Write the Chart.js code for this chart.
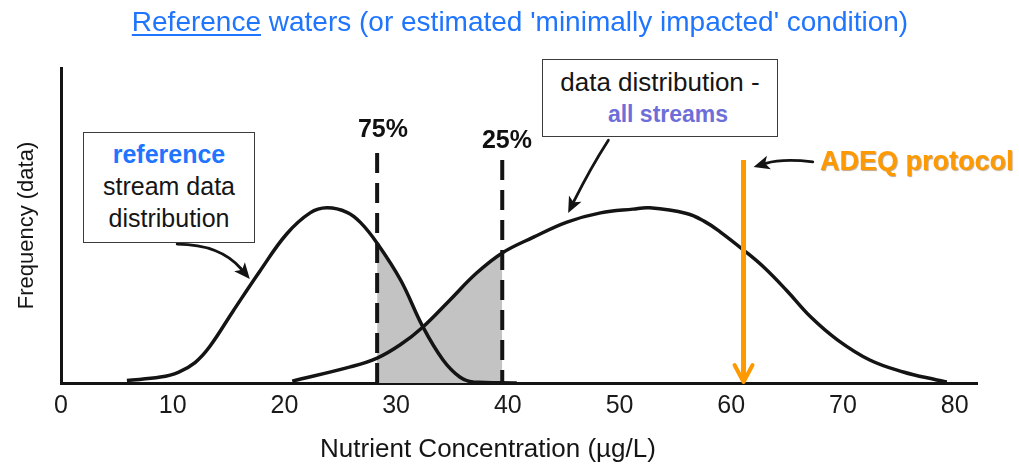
<!DOCTYPE html>
<html>
<head>
<meta charset="utf-8">
<script src="https://cdn.jsdelivr.net/npm/chart.js@4.4.1/dist/chart.umd.min.js"></script>
<style>
html,body{margin:0;padding:0;background:#fff;}
#wrap{position:relative;width:1019px;height:464px;overflow:hidden;font-family:"Liberation Sans",Arial,Helvetica,sans-serif;}
#c{position:absolute;left:0;top:0;}
.t{position:absolute;white-space:nowrap;}
#title{left:0;width:1040px;top:4px;text-align:center;font-size:28px;line-height:36px;color:#1f75fe;}
#title u{text-decoration-thickness:2px;text-underline-offset:3px;}
.box{position:absolute;background:#fff;border:1.5px solid #3c3c3c;text-align:center;color:#151515;box-sizing:border-box;white-space:nowrap;}
#box1{left:83px;top:132px;width:172px;height:111px;font-size:25px;line-height:32px;padding-top:5px;}
#box2{left:542px;top:59px;width:236px;height:78px;font-size:26px;line-height:31px;padding-top:7px;}
.blue{color:#1f75fe;font-weight:bold;}
.lav{color:#6e6ed8;font-weight:bold;font-size:23px;padding-left:16px;}
.pct{font-weight:bold;font-size:25px;line-height:30px;width:80px;text-align:center;color:#111;}
#p75{left:343px;top:113px;}
#p25{left:467px;top:124px;}
#adeq{left:820px;top:146px;font-weight:bold;font-size:27px;line-height:30px;color:#ff9900;text-shadow:1px 1px 1px rgba(110,60,0,0.45);}
#xtitle{left:288px;width:400px;top:433px;text-align:center;font-size:26px;line-height:30px;color:#151515;}
</style>
</head>
<body>
<div id="wrap">
<canvas id="c" width="1019" height="464"></canvas>
<div class="t" id="title"><u>Reference</u> waters (or estimated 'minimally impacted' condition)</div>
<div class="box" id="box1"><span class="blue">reference</span><br>stream data<br>distribution</div>
<div class="box" id="box2">data distribution -<br><span class="lav">all streams</span></div>
<div class="t pct" id="p75">75%</div>
<div class="t pct" id="p25">25%</div>
<div class="t" id="adeq">ADEQ protocol</div>
<div class="t" id="xtitle">Nutrient Concentration (µg/L)</div>
</div>
<script>
// ---- data ----
const TICKS = [0, 10, 20, 30, 40, 50, 60, 70, 80];

const REF_X = [5.9, 8.9, 10.5, 12.0, 13.3, 15.4, 17.8, 20.2, 22.3, 23.8, 25.6, 26.8, 28.3, 30.4, 32.4, 34.2, 35.7, 36.9, 40.8];
const REF_Y = [0.8, 1.9, 3.4, 6.5, 11.5, 22.8, 35.5, 47.3, 54.0, 55.6, 54.2, 51.0, 44.4, 32.7, 17.8, 7.3, 1.9, 0.3, 0];

const ALL_X = [20.7, 25.9, 28.3, 30.4, 32.4, 34.8, 37.2, 39.5, 42.3, 45.3, 48.3, 51.2, 52.7, 56.0, 57.6, 59.0, 61.1, 62.9, 65.0, 67.1, 69.5, 72.4, 75.4, 78.4, 79.3];
const ALL_Y = [0.6, 5.1, 7.9, 12.2, 17.8, 26.3, 34.9, 41.3, 46.3, 51.1, 54.0, 55.2, 55.6, 53.8, 51.3, 48.0, 42.2, 36.8, 29.2, 21.0, 13.7, 7.3, 3.5, 0.95, 0.3];

// shaded band between the 75% and 25% marks (portions of each curve)
const SHADE_REF_X = [28.3, 30.4, 32.4, 34.2, 35.7, 36.9, 39.5];
const SHADE_REF_Y = [44.4, 32.7, 17.8, 7.3, 1.9, 0.3, 0];
const SHADE_ALL_X = [28.3, 30.4, 32.4, 34.8, 37.2, 39.5];
const SHADE_ALL_Y = [7.9, 12.2, 17.8, 26.3, 34.9, 41.3];

const Q75 = 28.3, Q75_TOP = 73.0;
const Q25 = 39.5, Q25_TOP = 70.8;
const ADEQ = 61.1, ADEQ_TOP = 70.8;

const pts = (xs, ys) => xs.map((v, i) => ({x: v, y: ys[i]}));

const FONT = '"Liberation Sans", Arial, Helvetica, sans-serif';
const INK = '#141414';
const SHADE = '#c3c3c3';
const ORANGE = '#ff9900';
const TENSION = 0.4;

const arrowsPlugin = {
  id: 'arrows',
  afterDatasetsDraw(chart) {
    const {ctx, scales: {x, y}} = chart;
    const P = (a, b) => [x.getPixelForValue(a), y.getPixelForValue(b)];
    function curvedArrow(p0, c, p2) {
      const [x0, y0] = P(p0[0], p0[1]);
      const [cx, cy] = P(c[0], c[1]);
      const [x2, y2] = P(p2[0], p2[1]);
      ctx.save();
      ctx.strokeStyle = INK; ctx.fillStyle = INK;
      ctx.lineWidth = 2.8; ctx.lineCap = 'round';
      const ang = Math.atan2(y2 - cy, x2 - cx);
      const hl = 16, hw = 7;
      const bx = x2 - hl * 0.8 * Math.cos(ang), by = y2 - hl * 0.8 * Math.sin(ang);
      ctx.beginPath(); ctx.moveTo(x0, y0); ctx.quadraticCurveTo(cx, cy, bx, by); ctx.stroke();
      ctx.beginPath();
      ctx.moveTo(x2, y2);
      ctx.lineTo(x2 - hl * Math.cos(ang) + hw * Math.sin(ang), y2 - hl * Math.sin(ang) - hw * Math.cos(ang));
      ctx.lineTo(x2 - hl * 0.75 * Math.cos(ang), y2 - hl * 0.75 * Math.sin(ang));
      ctx.lineTo(x2 - hl * Math.cos(ang) - hw * Math.sin(ang), y2 - hl * Math.sin(ang) + hw * Math.cos(ang));
      ctx.closePath(); ctx.fill();
      ctx.restore();
    }
    curvedArrow([10.4, 44.1], [14.3, 44.0], [16.9, 33.0]);
    curvedArrow([49.0, 77.1], [47.4, 68.3], [45.4, 54.0]);
    curvedArrow([67.3, 70.2], [64.6, 71.3], [62.0, 68.6]);
    // ADEQ arrow head (open chevron)
    const [tx, ty] = P(ADEQ, 0);
    ctx.save();
    ctx.strokeStyle = ORANGE; ctx.lineWidth = 4; ctx.lineCap = 'round'; ctx.lineJoin = 'round';
    ctx.beginPath(); ctx.moveTo(tx - 9, ty - 18); ctx.lineTo(tx, ty - 1); ctx.lineTo(tx + 9, ty - 18); ctx.stroke();
    ctx.restore();
  }
};

new Chart(document.getElementById('c'), {
  type: 'scatter',
  data: {
    datasets: [
      {data: [{x: ADEQ, y: ADEQ_TOP}, {x: ADEQ, y: 0.6}], showLine: true, borderColor: ORANGE, borderWidth: 5, pointRadius: 0, order: 0},
      {data: pts(REF_X, REF_Y), showLine: true, borderColor: INK, borderWidth: 3.5, pointRadius: 0, tension: TENSION, order: 1},
      {data: pts(ALL_X, ALL_Y), showLine: true, borderColor: INK, borderWidth: 3.5, pointRadius: 0, tension: TENSION, order: 1},
      {data: [{x: Q75, y: Q75_TOP}, {x: Q75, y: 0}], showLine: true, borderColor: INK, borderWidth: 4, borderDash: [20, 10], pointRadius: 0, order: 2},
      {data: [{x: Q25, y: Q25_TOP}, {x: Q25, y: 0}], showLine: true, borderColor: INK, borderWidth: 4, borderDash: [20, 10], pointRadius: 0, order: 2},
      {data: pts(SHADE_REF_X, SHADE_REF_Y), showLine: true, borderWidth: 0, borderColor: 'rgba(0,0,0,0)', backgroundColor: SHADE, fill: 'origin', pointRadius: 0, tension: TENSION, order: 5},
      {data: pts(SHADE_ALL_X, SHADE_ALL_Y), showLine: true, borderWidth: 0, borderColor: 'rgba(0,0,0,0)', backgroundColor: SHADE, fill: 'origin', pointRadius: 0, tension: TENSION, order: 5}
    ]
  },
  options: {
    responsive: false,
    animation: false,
    events: [],
    layout: {padding: {left: 0, right: 42, top: 68, bottom: 0}},
    plugins: {legend: {display: false}, tooltip: {enabled: false}, title: {display: false}},
    scales: {
      x: {
        type: 'linear', min: 0, max: 82,
        grid: {display: false, drawTicks: false},
        border: {display: true, color: INK, width: 3},
        ticks: {font: {family: FONT, size: 25}, color: '#1a1a1a', padding: 8, maxRotation: 0},
        afterBuildTicks: s => { s.ticks = TICKS.map(v => ({value: v})); },
        afterFit: s => { s.height = 81; },
        title: {display: false}
      },
      y: {
        type: 'linear', min: 0, max: 100,
        grid: {display: false, drawTicks: false},
        border: {display: true, color: INK, width: 3},
        ticks: {display: false},
        afterFit: s => { s.width = 61; },
        title: {display: true, text: 'Frequency (data)', font: {family: FONT, size: 22}, color: '#151515', padding: {top: 14, bottom: 0}}
      }
    }
  },
  plugins: [arrowsPlugin]
});
</script>
</body>
</html>
